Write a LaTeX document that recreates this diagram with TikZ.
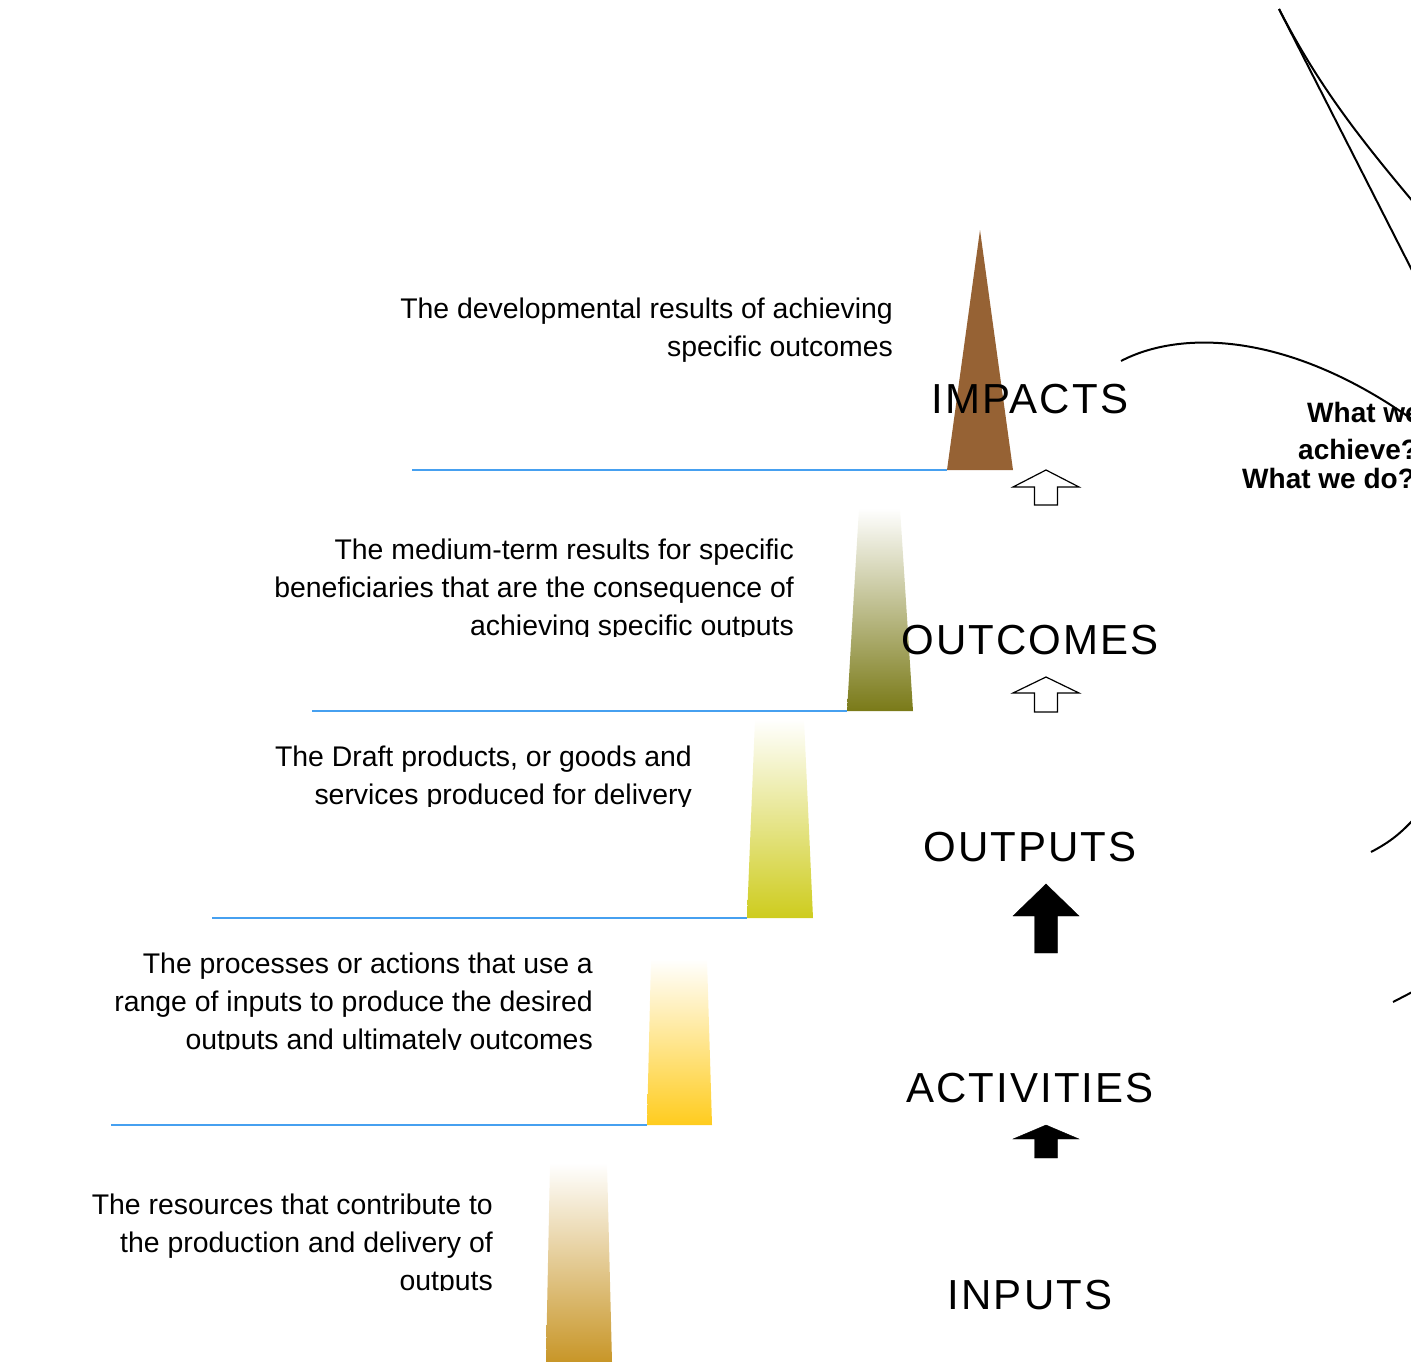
\documentclass[tikz,border=0pt]{standalone}
\usepackage{fontspec}
\setmainfont{Liberation Sans}
\newfontfamily\stagefont[LetterSpace=5]{Liberation Sans}
\definecolor{levelblue}{RGB}{70,160,240}
\definecolor{impactbrown}{RGB}{150,98,52}
\definecolor{outcomeolive}{RGB}{122,122,24}
\definecolor{outputyellow}{RGB}{206,204,30}
\definecolor{activitygold}{RGB}{255,204,30}
\definecolor{inputochre}{RGB}{200,150,40}
\tikzset{
	levelline/.style={draw=levelblue, line width=1.8},
	stagelabel/.style={font=\stagefont\fontsize{42}{48}\selectfont, inner sep=0, anchor=base},
	desctext/.style={font=\fontsize{28.4}{38}\selectfont, align=right, inner sep=0, anchor=north east},
	questext/.style={font=\bfseries\fontsize{28}{34}\selectfont, inner sep=0, anchor=base west},
	hollow/.style={draw, fill=white, line width=1.2},
	solid/.style={fill=black},
	sketch/.style={line width=2}
}
\newcommand{\stagebar}[7] % top y, bottom y, top left x, top right x, bottom left x, bottom right x, colour
{
	\shade[top color=white, bottom color=#7] (#3,#1) -- (#4,#1) -- (#6,#2) -- (#5,#2) -- cycle;
}
\newcommand{\uparrowshape}[4] % tip y, head y, tail y, style
{
	\draw[#4] (1046,#1) -- (1079,#2) -- (1057.5,#2) -- (1057.5,#3) -- (1034.5,#3) -- (1034.5,#2) -- (1013,#2) -- cycle;
}
\newcommand{\desc}[5] % name, right x, first baseline, clip y, text
{
	\begin{scope}
		\clip (0,0) rectangle (#2+10,#4);
		\node[desctext] (#1) at (#2,#3-16) {#5};
	\end{scope}
}
\begin{document}
\begin{tikzpicture}[x=1pt, y=-1pt]
	% page of 1411 x 1362, y counted downwards
	\useasboundingbox (0,0) rectangle (1411,1362);
	\clip (0,0) rectangle (1411,1362);
	
	% the five steps
	\fill[impactbrown] (980,230) -- (1013,470) -- (947,470) -- cycle;
	\stagebar{508}{711}{859}{900}{847}{913}{outcomeolive};
	\stagebar{719}{918}{755}{804}{747}{813}{outputyellow};
	\stagebar{959}{1125}{651}{707}{647}{712}{activitygold};
	\stagebar{1163}{1362}{550}{607}{546}{612}{inputochre};
	
	\draw[levelline] (412,470) -- (947,470);
	\draw[levelline] (312,711) -- (847,711);
	\draw[levelline] (212,918) -- (747,918);
	\draw[levelline] (111,1125) -- (647,1125);
	
	\node[stagelabel] (impacts) at (1030,413) {IMPACTS};
	\node[stagelabel] (outcomes) at (1030,654) {OUTCOMES};
	\node[stagelabel] (outputs) at (1030,861) {OUTPUTS};
	\node[stagelabel] (activities) at (1030,1102) {ACTIVITIES};
	\node[stagelabel] (inputs) at (1030,1309) {INPUTS};
	
	\uparrowshape{470}{487}{505}{hollow};
	\uparrowshape{677}{693}{712}{hollow};
	\uparrowshape{884}{916}{953}{solid};
	\uparrowshape{1125}{1139}{1158}{solid};
	
	% texts left of the steps
	\desc{impactdesc}{893}{314}{362}{The developmental results of achieving\\specific outcomes};
	\desc{outcomedesc}{794}{555}{636}{The medium-term results for specific\\beneficiaries that are the consequence of\\achieving specific outputs};
	\desc{outputdesc}{692}{762}{806}{The Draft products, or goods and\\services produced for delivery};
	\desc{activitydesc}{593}{969}{1049}{The processes or actions that use a\\range of inputs to produce the desired\\outputs and ultimately outcomes};
	\desc{inputdesc}{493}{1210}{1290}{The resources that contribute to\\the production and delivery of\\outputs};
	
	% questions and curves at the right edge
	\node[questext] (whatwe) at (1307,422) {What we};
	\node[questext] (achieve) at (1298,459) {achieve?};
	\node[questext] (whatwedo) at (1242,488) {What we do?};
	
	\draw[sketch] (1279,9) -- (1420,286);
	\draw[sketch] (1279,9) .. controls (1319,87) and (1361,140) .. (1420,210);
	\draw[sketch] (1121,361) .. controls (1180,330) and (1290,330) .. (1420,425);
	\draw[sketch] (1371,852) .. controls (1390,842) and (1402,833) .. (1420,812);
	\draw[sketch] (1393,1002) -- (1420,988);
\end{tikzpicture}
\end{document}
